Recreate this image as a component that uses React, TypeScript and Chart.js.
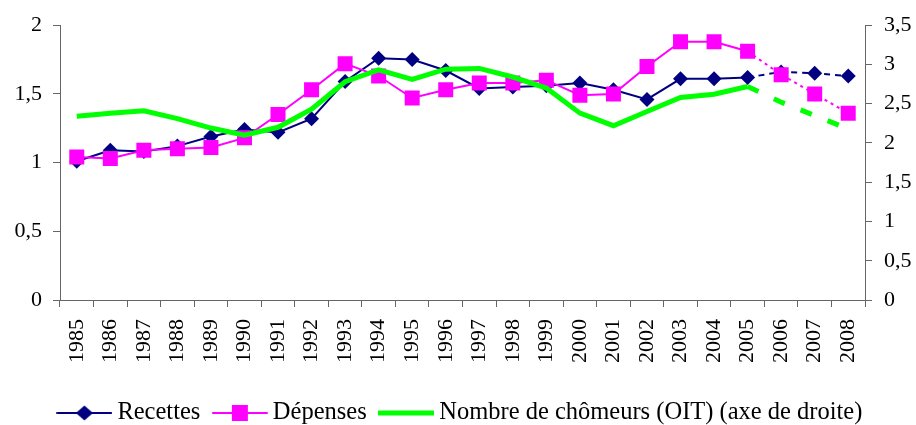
import React, { useEffect, useRef } from "react";
import { Chart, registerables } from "chart.js";

Chart.register(...registerables);

const years = ["1985","1986","1987","1988","1989","1990","1991","1992","1993","1994","1995","1996","1997","1998","1999","2000","2001","2002","2003","2004","2005","2006","2007","2008"];
const recettes = [1.01,1.09,1.08,1.12,1.19,1.24,1.22,1.32,1.59,1.76,1.75,1.67,1.54,1.55,1.56,1.58,1.53,1.46,1.61,1.61,1.62,1.66,1.65,1.63];
const depenses = [1.04,1.03,1.09,1.10,1.11,1.18,1.35,1.53,1.72,1.63,1.47,1.53,1.58,1.58,1.60,1.49,1.50,1.70,1.88,1.88,1.81,1.64,1.50,1.36];
const chomeurs = [2.34,2.38,2.41,2.31,2.19,2.10,2.20,2.43,2.78,2.93,2.81,2.94,2.95,2.84,2.70,2.38,2.22,2.40,2.58,2.62,2.72,2.52,2.35,2.18];
const seriesNames = ["Recettes", "Dépenses", "Nombre de chômeurs (OIT) (axe de droite)"];
const forecastStart = 20; // index of 2005

const FONT = "'Times New Roman', 'Liberation Serif', serif";
const NAVY = "#000080";
const MAGENTA = "#ff00ff";
const GREEN = "#00ff00";

function legendIcon(color: string, width: number, marker: "diamond" | "square" | null) {
  const c = document.createElement("canvas");
  c.width = 56;
  c.height = 20;
  const ctx = c.getContext("2d")!;
  ctx.strokeStyle = color;
  ctx.lineWidth = width;
  ctx.lineCap = "round";
  ctx.beginPath();
  ctx.moveTo(1, 10);
  ctx.lineTo(55, 10);
  ctx.stroke();
  ctx.fillStyle = color;
  if (marker === "diamond") {
    ctx.beginPath();
    ctx.moveTo(28, 2.5);
    ctx.lineTo(36.5, 10);
    ctx.lineTo(28, 17.5);
    ctx.lineTo(19.5, 10);
    ctx.closePath();
    ctx.fill();
  } else if (marker === "square") {
    ctx.fillRect(20, 2, 16, 16);
  }
  return c;
}

export default function App() {
  const ref = useRef<HTMLCanvasElement>(null);
  useEffect(() => {
    if (!ref.current) return;
    const icons = [
      legendIcon(NAVY, 2, "diamond"),
      legendIcon(MAGENTA, 2, "square"),
      legendIcon(GREEN, 5, null),
    ];
    const chart = new Chart(ref.current, {
      type: "line",
      data: {
        labels: years,
        datasets: [
          {
            label: seriesNames[0],
            data: recettes,
            borderColor: NAVY,
            backgroundColor: NAVY,
            borderWidth: 2,
            pointStyle: "rectRot",
            pointRadius: 7.5,
            pointBorderWidth: 0,
            yAxisID: "y",
            segment: { borderDash: (c: any) => (c.p0DataIndex >= forecastStart ? [6, 5] : undefined) },
            order: 2,
          },
          {
            label: seriesNames[1],
            data: depenses,
            borderColor: MAGENTA,
            backgroundColor: MAGENTA,
            borderWidth: 2,
            pointStyle: "rect",
            pointRadius: 10.6,
            pointBorderWidth: 0,
            yAxisID: "y",
            segment: { borderDash: (c: any) => (c.p0DataIndex >= forecastStart ? [3, 4] : undefined) },
            order: 1,
          },
          {
            label: seriesNames[2],
            data: chomeurs,
            borderColor: GREEN,
            backgroundColor: GREEN,
            borderWidth: 5,
            pointRadius: 0,
            yAxisID: "y1",
            segment: { borderDash: (c: any) => (c.p0DataIndex >= forecastStart ? [12, 17] : undefined) },
            order: 0,
          },
        ],
      },
      options: {
        responsive: false,
        animation: false,
        layout: { padding: { top: 23, bottom: -10.25, left: 10, right: 0 } },
        plugins: {
          tooltip: { enabled: false },
          legend: {
            position: "bottom",
            labels: {
              usePointStyle: true,
              pointStyleWidth: 41.5,
              padding: 18.75,
              color: "#000",
              font: { family: FONT, size: 24.5 },
              generateLabels: (ch: any) =>
                ch.data.datasets.map((ds: any, i: number) => ({
                  text: ds.label,
                  pointStyle: icons[i],
                  fillStyle: ds.borderColor,
                  strokeStyle: ds.borderColor,
                  lineWidth: 0,
                  hidden: false,
                  datasetIndex: i,
                  fontColor: "#000",
                })),
            },
          },
        },
        scales: {
          x: {
            offset: true,
            grid: { offset: true, drawOnChartArea: false, drawTicks: true, tickLength: 7, color: "#666" },
            border: { color: "#666", width: 1 },
            ticks: {
              autoSkip: false,
              maxRotation: 90,
              minRotation: 90,
              padding: 12,
              color: "#000",
              font: { family: FONT, size: 22 },
            },
            afterFit: (s: any) => { s.height = 82; },
          },
          y: {
            position: "left",
            min: 0,
            max: 2,
            grid: { drawOnChartArea: false, tickLength: 7, color: "#666" },
            border: { color: "#666" },
            ticks: {
              stepSize: 0.5,
              padding: 11,
              color: "#000",
              font: { family: FONT, size: 22 },
              callback: (v: any) => String(v).replace(".", ","),
            },
            afterFit: (s: any) => { s.width = 50; },
          },
          y1: {
            position: "right",
            min: 0,
            max: 3.5,
            grid: { drawOnChartArea: false, tickLength: 7, color: "#666" },
            border: { color: "#666" },
            ticks: {
              stepSize: 0.5,
              padding: 12,
              color: "#000",
              font: { family: FONT, size: 22 },
              callback: (v: any) => String(v).replace(".", ","),
            },
            afterFit: (s: any) => { s.width = 51; },
          },
        },
      },
    } as any);
    return () => chart.destroy();
  }, []);
  return (
    <div style={{ position: "absolute", left: 0, top: 0, width: 916, height: 425, background: "#fff" }}>
      <canvas ref={ref} width={916} height={425} style={{ width: 916, height: 425, display: "block" }} />
    </div>
  );
}
